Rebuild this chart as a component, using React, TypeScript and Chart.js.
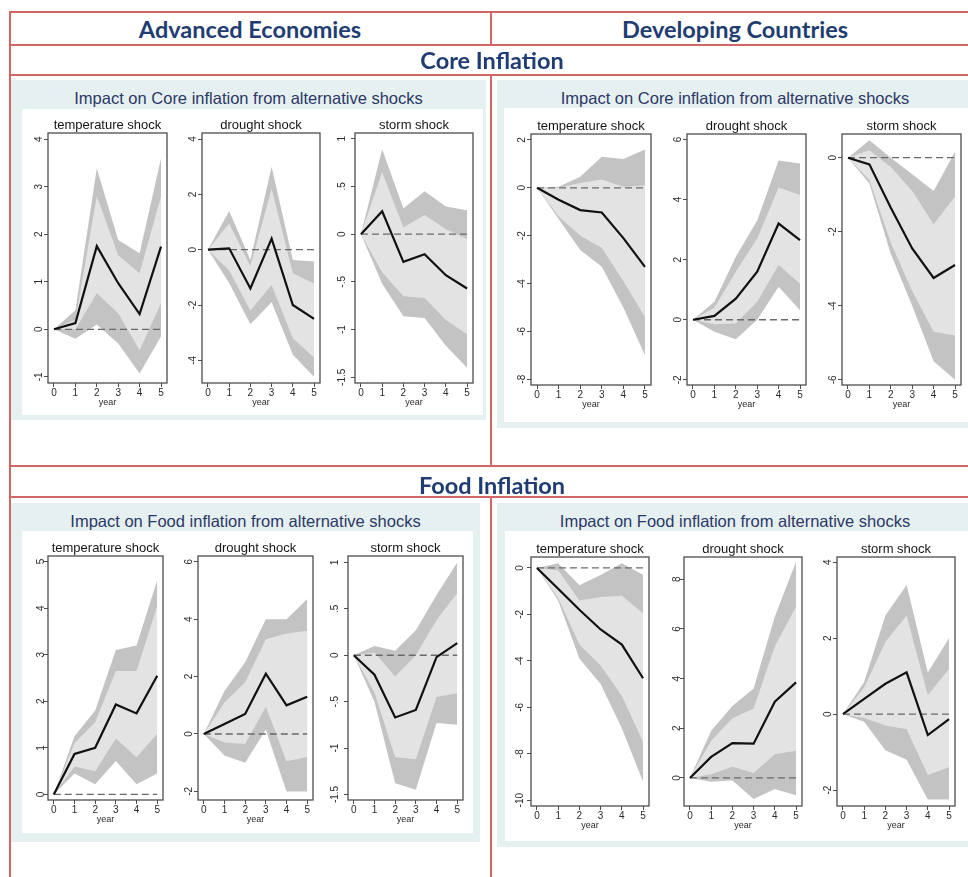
import React, { useEffect, useRef } from 'react';
import { Chart, registerables } from 'chart.js';

Chart.register(...registerables);

const FONT = '"Liberation Sans", Arial, Helvetica, sans-serif';

// ---------- shared axis data ----------
const years = [0, 1, 2, 3, 4, 5];
const yearLabels = ['0', '1', '2', '3', '4', '5'];
const zeroLine = [0, 0, 0, 0, 0, 0];
const shockTitles = ['temperature shock', 'drought shock', 'storm shock'];

// ---------- Advanced Economies, Core inflation ----------
const aeCoreTempIrf = [0, 0.13, 1.75, 0.97, 0.32, 1.74];
const aeCoreTempHi90 = [0, 0.4, 3.39, 1.88, 1.6, 3.6];
const aeCoreTempHi68 = [0, 0.2, 2.8, 1.56, 1.18, 2.8];
const aeCoreTempLo68 = [0, 0.0, 0.76, 0.34, -0.44, 0.55];
const aeCoreTempLo90 = [0, -0.2, 0.1, -0.3, -0.93, -0.15];
const aeCoreTempTicks = [-1, 0, 1, 2, 3, 4];
const aeCoreTempTickLabels = ['-1', '0', '1', '2', '3', '4'];
const aeCoreTempRange = [-1.13, 4.13];

const aeCoreDroughtIrf = [0, 0.05, -1.4, 0.4, -2.0, -2.5];
const aeCoreDroughtHi90 = [0, 1.4, -0.37, 3.0, -0.37, -0.43];
const aeCoreDroughtHi68 = [0, 0.95, -0.6, 2.2, -0.85, -1.22];
const aeCoreDroughtLo68 = [0, -0.75, -2.2, -1.28, -3.2, -3.9];
const aeCoreDroughtLo90 = [0, -1.2, -2.7, -1.9, -3.8, -4.6];
const aeCoreDroughtTicks = [-4, -2, 0, 2, 4];
const aeCoreDroughtTickLabels = ['-4', '-2', '0', '2', '4'];
const aeCoreDroughtRange = [-4.82, 4.22];

const aeCoreStormIrf = [0, 0.24, -0.29, -0.21, -0.43, -0.57];
const aeCoreStormHi90 = [0, 0.89, 0.27, 0.45, 0.29, 0.25];
const aeCoreStormHi68 = [0, 0.65, 0.07, 0.2, 0.05, -0.05];
const aeCoreStormLo68 = [0, -0.4, -0.65, -0.67, -0.9, -1.05];
const aeCoreStormLo90 = [0, -0.52, -0.86, -0.88, -1.17, -1.4];
const aeCoreStormTicks = [-1.5, -1, -0.5, 0, 0.5, 1];
const aeCoreStormTickLabels = ['-1.5', '-1', '-.5', '0', '.5', '1'];
const aeCoreStormRange = [-1.56, 1.06];

// ---------- Developing Countries, Core inflation ----------
const dcCoreTempIrf = [0, -0.5, -0.93, -1.03, -2.1, -3.3];
const dcCoreTempHi90 = [0, 0.05, 0.46, 1.3, 1.2, 1.6];
const dcCoreTempHi68 = [0, 0, 0.2, 0.35, 0.05, 0.1];
const dcCoreTempLo68 = [0, -1.2, -2.0, -2.5, -3.9, -5.4];
const dcCoreTempLo90 = [0, -1.3, -2.6, -3.3, -5.0, -7.0];
const dcCoreTempTicks = [-8, -6, -4, -2, 0, 2];
const dcCoreTempTickLabels = ['-8', '-6', '-4', '-2', '0', '2'];
const dcCoreTempRange = [-8.24, 2.25];

const dcCoreDroughtIrf = [0, 0.13, 0.7, 1.6, 3.2, 2.65];
const dcCoreDroughtHi90 = [0, 0.6, 2.1, 3.3, 5.3, 5.2];
const dcCoreDroughtHi68 = [0, 0.4, 1.6, 2.7, 4.4, 4.15];
const dcCoreDroughtLo68 = [0, -0.15, -0.12, 0.6, 1.82, 1.2];
const dcCoreDroughtLo90 = [0, -0.4, -0.65, 0, 1.1, 0.32];
const dcCoreDroughtTicks = [-2, 0, 2, 4, 6];
const dcCoreDroughtTickLabels = ['-2', '0', '2', '4', '6'];
const dcCoreDroughtRange = [-2.17, 6.18];

const dcCoreStormIrf = [0, -0.18, -1.35, -2.45, -3.25, -2.9];
const dcCoreStormHi90 = [0, 0.47, 0.0, -0.45, -0.9, 0.16];
const dcCoreStormHi68 = [0, 0.2, -0.25, -0.9, -1.8, -1.05];
const dcCoreStormLo68 = [0, -0.6, -2.3, -3.6, -4.7, -4.8];
const dcCoreStormLo90 = [0, -0.7, -2.6, -4.0, -5.5, -6.0];
const dcCoreStormTicks = [-6, -4, -2, 0];
const dcCoreStormTickLabels = ['-6', '-4', '-2', '0'];
const dcCoreStormRange = [-6.14, 0.64];

// ---------- Advanced Economies, Food inflation ----------
const aeFoodTempIrf = [0, 0.87, 1.0, 1.93, 1.74, 2.55];
const aeFoodTempHi90 = [0, 1.25, 1.8, 3.1, 3.2, 4.6];
const aeFoodTempHi68 = [0, 1.1, 1.55, 2.65, 2.65, 4.05];
const aeFoodTempLo68 = [0, 0.6, 0.5, 1.2, 0.8, 1.3];
const aeFoodTempLo90 = [0, 0.45, 0.22, 0.72, 0.22, 0.45];
const aeFoodTempTicks = [0, 1, 2, 3, 4, 5];
const aeFoodTempTickLabels = ['0', '1', '2', '3', '4', '5'];
const aeFoodTempRange = [-0.12, 5.12];

const aeFoodDroughtIrf = [0, 0.35, 0.7, 2.1, 1.0, 1.3];
const aeFoodDroughtHi90 = [0, 1.5, 2.5, 4.0, 4.0, 4.7];
const aeFoodDroughtHi68 = [0, 1.1, 1.8, 3.3, 3.5, 3.6];
const aeFoodDroughtLo68 = [0, -0.3, -0.35, 0.95, -0.95, -0.8];
const aeFoodDroughtLo90 = [0, -0.75, -1.0, 0.15, -2.0, -2.0];
const aeFoodDroughtTicks = [-2, 0, 2, 4, 6];
const aeFoodDroughtTickLabels = ['-2', '0', '2', '4', '6'];
const aeFoodDroughtRange = [-2.3, 6.2];

const aeFoodStormIrf = [0, -0.21, -0.67, -0.59, -0.02, 0.13];
const aeFoodStormHi90 = [0, 0.1, 0.05, 0.27, 0.65, 1.0];
const aeFoodStormHi68 = [0, 0.03, -0.23, 0.0, 0.38, 0.67];
const aeFoodStormLo68 = [0, -0.4, -1.1, -1.12, -0.45, -0.41];
const aeFoodStormLo90 = [0, -0.5, -1.38, -1.45, -0.73, -0.75];
const aeFoodStormTicks = [-1.5, -1, -0.5, 0, 0.5, 1];
const aeFoodStormTickLabels = ['-1.5', '-1', '-.5', '0', '.5', '1'];
const aeFoodStormRange = [-1.56, 1.07];

// ---------- Developing Countries, Food inflation ----------
const dcFoodTempIrf = [0, -0.9, -1.8, -2.65, -3.3, -4.75];
const dcFoodTempHi90 = [0, 0.2, -0.75, -0.3, 0.2, -0.3];
const dcFoodTempHi68 = [0, -0.1, -1.4, -1.25, -1.2, -1.95];
const dcFoodTempLo68 = [0, -1.3, -3.3, -4.2, -5.5, -7.5];
const dcFoodTempLo90 = [0, -1.4, -3.9, -5.0, -6.9, -9.2];
const dcFoodTempTicks = [-10, -8, -6, -4, -2, 0];
const dcFoodTempTickLabels = ['-10', '-8', '-6', '-4', '-2', '0'];
const dcFoodTempRange = [-10.25, 0.47];

const dcFoodDroughtIrf = [0, 0.85, 1.4, 1.38, 3.07, 3.85];
const dcFoodDroughtHi90 = [0, 1.9, 2.9, 3.6, 6.5, 8.7];
const dcFoodDroughtHi68 = [0, 1.5, 2.4, 2.8, 5.3, 6.9];
const dcFoodDroughtLo68 = [0, 0.15, 0.45, 0.2, 0.95, 1.1];
const dcFoodDroughtLo90 = [0, -0.15, -0.1, -0.85, -0.45, -0.7];
const dcFoodDroughtTicks = [0, 2, 4, 6, 8];
const dcFoodDroughtTickLabels = ['0', '2', '4', '6', '8'];
const dcFoodDroughtRange = [-1.13, 8.9];

const dcFoodStormIrf = [0, 0.4, 0.8, 1.1, -0.55, -0.13];
const dcFoodStormHi90 = [0, 0.85, 2.6, 3.4, 1.1, 2.0];
const dcFoodStormHi68 = [0, 0.7, 1.9, 2.6, 0.5, 1.2];
const dcFoodStormLo68 = [0, -0.1, -0.3, -0.4, -1.6, -1.4];
const dcFoodStormLo90 = [0, -0.2, -0.95, -1.2, -2.25, -2.25];
const dcFoodStormTicks = [-2, 0, 2, 4];
const dcFoodStormTickLabels = ['-2', '0', '2', '4'];
const dcFoodStormRange = [-2.42, 4.14];

const xRange = [-0.28, 5.28];

// ---------- layout (page pixel positions of each plot frame) ----------
type Frame = { left: number; top: number; w: number; h: number };

type Spec = {
  title: string;
  irf: number[];
  hi90: number[];
  hi68: number[];
  lo68: number[];
  lo90: number[];
  ticks: number[];
  tickLabels: string[];
  range: number[];
  frame: Frame;
};

const specs: Spec[] = [
  { title: shockTitles[0], irf: aeCoreTempIrf, hi90: aeCoreTempHi90, hi68: aeCoreTempHi68, lo68: aeCoreTempLo68, lo90: aeCoreTempLo90, ticks: aeCoreTempTicks, tickLabels: aeCoreTempTickLabels, range: aeCoreTempRange, frame: { left: 48, top: 133, w: 119, h: 250 } },
  { title: shockTitles[1], irf: aeCoreDroughtIrf, hi90: aeCoreDroughtHi90, hi68: aeCoreDroughtHi68, lo68: aeCoreDroughtLo68, lo90: aeCoreDroughtLo90, ticks: aeCoreDroughtTicks, tickLabels: aeCoreDroughtTickLabels, range: aeCoreDroughtRange, frame: { left: 202, top: 133, w: 118, h: 250 } },
  { title: shockTitles[2], irf: aeCoreStormIrf, hi90: aeCoreStormHi90, hi68: aeCoreStormHi68, lo68: aeCoreStormLo68, lo90: aeCoreStormLo90, ticks: aeCoreStormTicks, tickLabels: aeCoreStormTickLabels, range: aeCoreStormRange, frame: { left: 355, top: 133, w: 118, h: 250 } },

  { title: shockTitles[0], irf: dcCoreTempIrf, hi90: dcCoreTempHi90, hi68: dcCoreTempHi68, lo68: dcCoreTempLo68, lo90: dcCoreTempLo90, ticks: dcCoreTempTicks, tickLabels: dcCoreTempTickLabels, range: dcCoreTempRange, frame: { left: 531, top: 134, w: 120, h: 251 } },
  { title: shockTitles[1], irf: dcCoreDroughtIrf, hi90: dcCoreDroughtHi90, hi68: dcCoreDroughtHi68, lo68: dcCoreDroughtLo68, lo90: dcCoreDroughtLo90, ticks: dcCoreDroughtTicks, tickLabels: dcCoreDroughtTickLabels, range: dcCoreDroughtRange, frame: { left: 687, top: 134, w: 119, h: 251 } },
  { title: shockTitles[2], irf: dcCoreStormIrf, hi90: dcCoreStormHi90, hi68: dcCoreStormHi68, lo68: dcCoreStormLo68, lo90: dcCoreStormLo90, ticks: dcCoreStormTicks, tickLabels: dcCoreStormTickLabels, range: dcCoreStormRange, frame: { left: 842, top: 134, w: 119, h: 251 } },

  { title: shockTitles[0], irf: aeFoodTempIrf, hi90: aeFoodTempHi90, hi68: aeFoodTempHi68, lo68: aeFoodTempLo68, lo90: aeFoodTempLo90, ticks: aeFoodTempTicks, tickLabels: aeFoodTempTickLabels, range: aeFoodTempRange, frame: { left: 48, top: 556, w: 115, h: 244 } },
  { title: shockTitles[1], irf: aeFoodDroughtIrf, hi90: aeFoodDroughtHi90, hi68: aeFoodDroughtHi68, lo68: aeFoodDroughtLo68, lo90: aeFoodDroughtLo90, ticks: aeFoodDroughtTicks, tickLabels: aeFoodDroughtTickLabels, range: aeFoodDroughtRange, frame: { left: 198, top: 556, w: 115, h: 244 } },
  { title: shockTitles[2], irf: aeFoodStormIrf, hi90: aeFoodStormHi90, hi68: aeFoodStormHi68, lo68: aeFoodStormLo68, lo90: aeFoodStormLo90, ticks: aeFoodStormTicks, tickLabels: aeFoodStormTickLabels, range: aeFoodStormRange, frame: { left: 348, top: 556, w: 115, h: 244 } },

  { title: shockTitles[0], irf: dcFoodTempIrf, hi90: dcFoodTempHi90, hi68: dcFoodTempHi68, lo68: dcFoodTempLo68, lo90: dcFoodTempLo90, ticks: dcFoodTempTicks, tickLabels: dcFoodTempTickLabels, range: dcFoodTempRange, frame: { left: 531, top: 557, w: 118, h: 249 } },
  { title: shockTitles[1], irf: dcFoodDroughtIrf, hi90: dcFoodDroughtHi90, hi68: dcFoodDroughtHi68, lo68: dcFoodDroughtLo68, lo90: dcFoodDroughtLo90, ticks: dcFoodDroughtTicks, tickLabels: dcFoodDroughtTickLabels, range: dcFoodDroughtRange, frame: { left: 684, top: 557, w: 118, h: 249 } },
  { title: shockTitles[2], irf: dcFoodStormIrf, hi90: dcFoodStormHi90, hi68: dcFoodStormHi68, lo68: dcFoodStormLo68, lo90: dcFoodStormLo90, ticks: dcFoodStormTicks, tickLabels: dcFoodStormTickLabels, range: dcFoodStormRange, frame: { left: 837, top: 557, w: 118, h: 249 } },
];

const SIDE = 30; // space left (y axis) and right of each frame inside its canvas
const TOP = 20; // title strip
const BOTTOM = 25; // x axis strip

const framePlugin = {
  id: 'stataFrame',
  afterDatasetsDraw(chart: any) {
    const { ctx, chartArea } = chart;
    const { left, top, right, bottom } = chartArea;
    ctx.save();
    ctx.strokeStyle = '#4d4d4d';
    ctx.lineWidth = 1.3;
    ctx.strokeRect(left, top, right - left, bottom - top);
    ctx.restore();
  },
};

function IrfChart({ spec }: { spec: Spec }) {
  const ref = useRef<HTMLCanvasElement>(null);
  const width = spec.frame.w + SIDE * 2;
  const height = spec.frame.h + TOP + BOTTOM;

  useEffect(() => {
    const pts = (vals: number[]) => years.map((x, i) => ({ x, y: vals[i] }));
    const band = (vals: number[], fill: any, color: string) => ({
      data: pts(vals),
      borderWidth: 0,
      borderColor: 'rgba(0,0,0,0)',
      pointRadius: 0,
      fill,
      backgroundColor: color,
      tension: 0,
    });
    const chart = new Chart(ref.current as HTMLCanvasElement, {
      type: 'line',
      data: {
        datasets: [
          { data: pts(spec.irf), borderColor: '#111111', borderWidth: 2.2, pointRadius: 0, fill: false, tension: 0 },
          { data: pts(zeroLine), borderColor: '#6a6a6a', borderWidth: 1.3, borderDash: [7, 4], pointRadius: 0, fill: false },
          band(spec.hi68, '+1', '#e3e3e3'),
          band(spec.lo68, false, 'rgba(0,0,0,0)'),
          band(spec.hi90, '+1', '#c3c3c3'),
          band(spec.lo90, false, 'rgba(0,0,0,0)'),
        ],
      } as any,
      options: {
        animation: false,
        responsive: false,
        maintainAspectRatio: false,
        events: [],
        layout: { padding: 0 },
        plugins: {
          legend: { display: false },
          tooltip: { enabled: false },
          title: {
            display: true,
            text: spec.title,
            color: '#151515',
            font: { family: FONT, size: 13, weight: 'normal', lineHeight: '14px' } as any,
            padding: { top: 5, bottom: 1 },
          },
        },
        scales: {
          x: {
            type: 'linear',
            min: xRange[0],
            max: xRange[1],
            afterBuildTicks: (s: any) => {
              s.ticks = years.map((v) => ({ value: v }));
            },
            afterFit: (s: any) => {
              s.height = BOTTOM;
            },
            grid: { drawOnChartArea: false, drawTicks: true, tickLength: 4, color: '#4d4d4d', lineWidth: 1 },
            border: { display: false },
            ticks: {
              autoSkip: false,
              maxRotation: 0,
              padding: 0,
              color: '#2a2a2a',
              font: { family: FONT, size: 10 },
              callback: (_v: any, i: number) => yearLabels[i],
            },
            title: { display: true, text: 'year', color: '#2a2a2a', font: { family: FONT, size: 9 }, padding: 0 },
          },
          y: {
            type: 'linear',
            position: 'left',
            min: spec.range[0],
            max: spec.range[1],
            afterBuildTicks: (s: any) => {
              s.ticks = spec.ticks.map((v) => ({ value: v }));
            },
            afterFit: (s: any) => {
              s.width = SIDE;
            },
            grid: { drawOnChartArea: false, drawTicks: true, tickLength: 4, color: '#4d4d4d', lineWidth: 1 },
            border: { display: false },
            ticks: {
              autoSkip: false,
              minRotation: 90,
              maxRotation: 90,
              crossAlign: 'center',
              padding: 0,
              color: '#2a2a2a',
              font: { family: FONT, size: 10 },
              callback: (_v: any, i: number) => spec.tickLabels[i],
            },
          },
          // empty right-hand strip so the title centres over the frame
          yRight: {
            type: 'linear',
            position: 'right',
            display: true,
            grid: { display: false },
            border: { display: false },
            ticks: { display: false },
            afterFit: (s: any) => {
              s.width = SIDE;
            },
          },
        },
      } as any,
      plugins: [framePlugin],
    });
    return () => chart.destroy();
  }, [spec]);

  return (
    <canvas
      ref={ref}
      width={width}
      height={height}
      style={{
        position: 'absolute',
        left: spec.frame.left - SIDE,
        top: spec.frame.top - TOP,
        width,
        height,
      }}
    />
  );
}

const RED = '#d06666';
const NAVY = '#1f3d72';

function HLine({ y, x1, x2 }: { y: number; x1: number; x2: number }) {
  return <div style={{ position: 'absolute', left: x1, top: y, width: x2 - x1, height: 2, background: RED }} />;
}
function VLine({ x, y1, y2 }: { x: number; y1: number; y2: number }) {
  return <div style={{ position: 'absolute', left: x, top: y1, width: 2, height: y2 - y1, background: RED }} />;
}

function Header({ text, cx, cy }: { text: string; cx: number; cy: number }) {
  return (
    <div
      style={{
        position: 'absolute',
        left: cx - 250,
        width: 500,
        top: cy - 15,
        height: 30,
        lineHeight: '30px',
        textAlign: 'center',
        fontFamily: 'Lato, "Open Sans", sans-serif',
        fontWeight: 700,
        fontSize: 23.5,
        color: NAVY,
      }}
    >
      {text}
    </div>
  );
}

function Panel({ bg, inner, title, titleY }: { bg: number[]; inner: number[]; title: string; titleY: number }) {
  return (
    <>
      <div style={{ position: 'absolute', left: bg[0], top: bg[1], width: bg[2], height: bg[3], background: '#e7f0f1' }} />
      <div style={{ position: 'absolute', left: inner[0], top: inner[1], width: inner[2], height: inner[3], background: '#ffffff' }} />
      <div
        style={{
          position: 'absolute',
          left: bg[0],
          width: bg[2] > 475 ? 476 : bg[2],
          top: titleY - 10,
          height: 20,
          lineHeight: '20px',
          textAlign: 'center',
          fontFamily: FONT,
          fontSize: 16.5,
          color: '#2b3867',
          whiteSpace: 'nowrap',
        }}
      >
        {title}
      </div>
    </>
  );
}

export default function App() {
  return (
    <div
      style={{
        position: 'absolute',
        left: 0,
        top: 0,
        width: 968,
        height: 877,
        overflow: 'hidden',
        background: '#ffffff',
        fontFamily: FONT,
      }}
    >
      <Panel bg={[11, 80, 475, 340]} inner={[22, 109, 461, 306]} title="Impact on Core inflation from alternative shocks" titleY={98} />
      <Panel bg={[497, 80, 480, 348]} inner={[504, 108, 470, 314]} title="Impact on Core inflation from alternative shocks" titleY={98} />
      <Panel bg={[11, 503, 469, 339]} inner={[22, 531, 451, 302]} title="Impact on Food inflation from alternative shocks" titleY={521} />
      <Panel bg={[497, 503, 480, 344]} inner={[505, 531, 470, 310]} title="Impact on Food inflation from alternative shocks" titleY={521} />

      {specs.map((s, i) => (
        <IrfChart key={i} spec={s} />
      ))}

      <HLine y={11} x1={9} x2={968} />
      <HLine y={44} x1={9} x2={968} />
      <HLine y={74} x1={9} x2={968} />
      <HLine y={465} x1={9} x2={968} />
      <HLine y={496} x1={9} x2={968} />
      <VLine x={9} y1={11} y2={877} />
      <VLine x={490} y1={11} y2={45} />
      <VLine x={490} y1={74} y2={466} />
      <VLine x={490} y1={496} y2={877} />

      <Header text="Advanced Economies" cx={250} cy={29} />
      <Header text="Developing Countries" cx={735} cy={29} />
      <Header text="Core Inflation" cx={492} cy={60} />
      <Header text="Food Inflation" cx={492} cy={485} />
    </div>
  );
}
